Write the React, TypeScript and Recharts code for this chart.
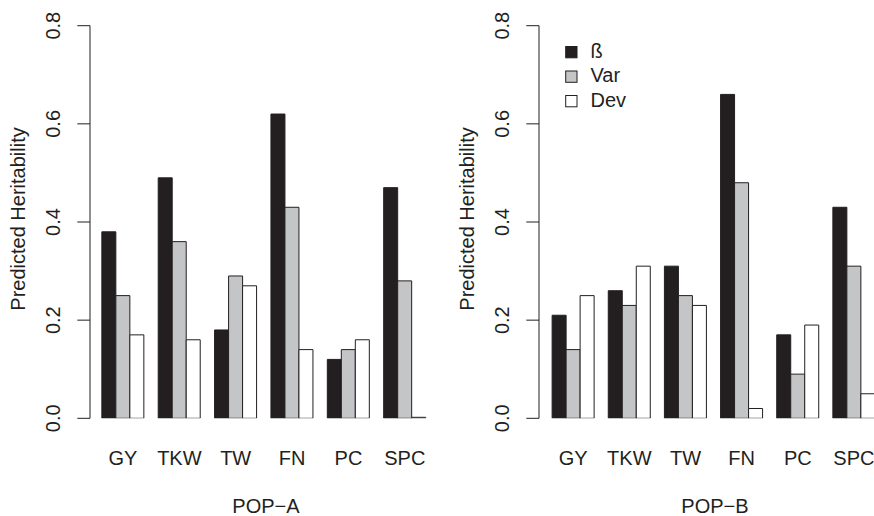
import React from 'react';
import { Bar, BarChart, Legend, XAxis, YAxis } from 'recharts';

// Predicted heritability per trait, two populations (R-style grouped barplot).

const categories = ['GY', 'TKW', 'TW', 'FN', 'PC', 'SPC'];

const popABeta = [0.38, 0.49, 0.18, 0.62, 0.12, 0.47];
const popAVar = [0.25, 0.36, 0.29, 0.43, 0.14, 0.28];
const popADev = [0.17, 0.16, 0.27, 0.14, 0.16, 0.0];

const popBBeta = [0.21, 0.26, 0.31, 0.66, 0.17, 0.43];
const popBVar = [0.14, 0.23, 0.25, 0.48, 0.09, 0.31];
const popBDev = [0.25, 0.31, 0.23, 0.02, 0.19, 0.05];

const yTicks = [0, 0.2, 0.4, 0.6, 0.8];

const INK = '#231f20';
const GREY = '#c4c5c7';
const FONT = '"Liberation Sans", Arial, sans-serif';

const series = [
  { key: 'beta', name: 'ß', fill: INK },
  { key: 'var', name: 'Var', fill: GREY },
  { key: 'dev', name: 'Dev', fill: '#ffffff' },
];

const buildRows = (beta: number[], v: number[], dev: number[]) =>
  categories.map((c, i) => ({ trait: c, beta: beta[i], var: v[i], dev: dev[i] }));

const popA = buildRows(popABeta, popAVar, popADev);
const popB = buildRows(popBBeta, popBVar, popBDev);

// outline as a path so a flat bar still shows its base line
const BarShape = (p: any) => {
  const { x, y, width, height, fill } = p;
  const d = `M${x},${y + height}L${x},${y}L${x + width},${y}L${x + width},${y + height}Z`;
  return <path d={d} fill={fill} stroke={INK} strokeWidth={1} />;
};

const YTick = (p: any) => {
  const bx = p.x - 17.3;
  return (
    <text x={bx} y={p.y} transform={`rotate(-90, ${bx}, ${p.y})`} textAnchor="middle"
      fontFamily={FONT} fontSize={20} fill={INK}>
      {Number(p.payload.value).toFixed(1)}
    </text>
  );
};

const XTick = (p: any) => (
  <text x={p.x} y={p.y + 46.7} textAnchor="middle" fontFamily={FONT} fontSize={20} fill={INK}>
    {p.payload.value}
  </text>
);

const LegendBox = (props: any) => {
  const order = series.map((s) => s.name);
  const items = [...(props.payload || [])].sort(
    (a: any, b: any) => order.indexOf(a.value) - order.indexOf(b.value)
  );
  return (
    <svg width={437} height={130} style={{ display: 'block' }}>
      {items.map((it: any, i: number) => (
        <g key={it.value}>
          <rect x={116.7} y={46.5 + i * 24.5} width={11.3} height={11.3}
            fill={it.color} stroke={INK} strokeWidth={1} />
          <text x={141.5} y={57.5 + i * 24.5} fontFamily={FONT} fontSize={20} fill={INK}>
            {it.value}
          </text>
        </g>
      ))}
    </svg>
  );
};

function Panel({ data, title, left, padLeft, showLegend }: any) {
  return (
    <div style={{ position: 'absolute', left, top: 0, width: 437, height: 516 }}>
      <BarChart width={437} height={516} data={data}
        margin={{ top: 25.7, right: 0, bottom: 37.7, left: 0 }}
        barCategoryGap="12.5%" barGap={0}>
        <XAxis dataKey="trait" height={60} axisLine={false} tickLine={false}
          tickSize={0} tickMargin={0} interval={0}
          padding={{ left: padLeft, right: 4 }} tick={<XTick />} />
        <YAxis width={90} domain={[0, 0.8]} ticks={yTicks} type="number"
          allowDataOverflow tickSize={12.7} tickMargin={0}
          axisLine={{ stroke: INK }} tickLine={{ stroke: INK }} tick={<YTick />} />
        {showLegend && (
          <Legend layout="vertical" align="center" verticalAlign="middle"
            wrapperStyle={{ left: 0, top: 0, width: 437, height: 130 }}
            content={<LegendBox />} />
        )}
        {series.map((s) => (
          <Bar key={s.key} dataKey={s.key} name={s.name} fill={s.fill}
            minPointSize={1} isAnimationActive={false} shape={<BarShape />} />
        ))}
      </BarChart>
      <svg width={437} height={516} style={{ position: 'absolute', left: 0, top: 0, pointerEvents: 'none' }}>
        <text x={25} y={219} transform="rotate(-90, 25, 219)" textAnchor="middle"
          fontFamily={FONT} fontSize={20} fill={INK}>
          Predicted Heritability
        </text>
        <text x={266} y={513} textAnchor="middle" fontFamily={FONT} fontSize={20} fill={INK}>
          {title}
        </text>
      </svg>
    </div>
  );
}

export default function App() {
  return (
    <div style={{ position: 'absolute', left: 0, top: 0, width: 874, height: 516, overflow: 'hidden', background: '#fff' }}>
      <Panel data={popA} title="POP−A" left={0} padLeft={4.8} showLegend={false} />
      <Panel data={popB} title="POP−B" left={449.3} padLeft={6.1} showLegend />
    </div>
  );
}
